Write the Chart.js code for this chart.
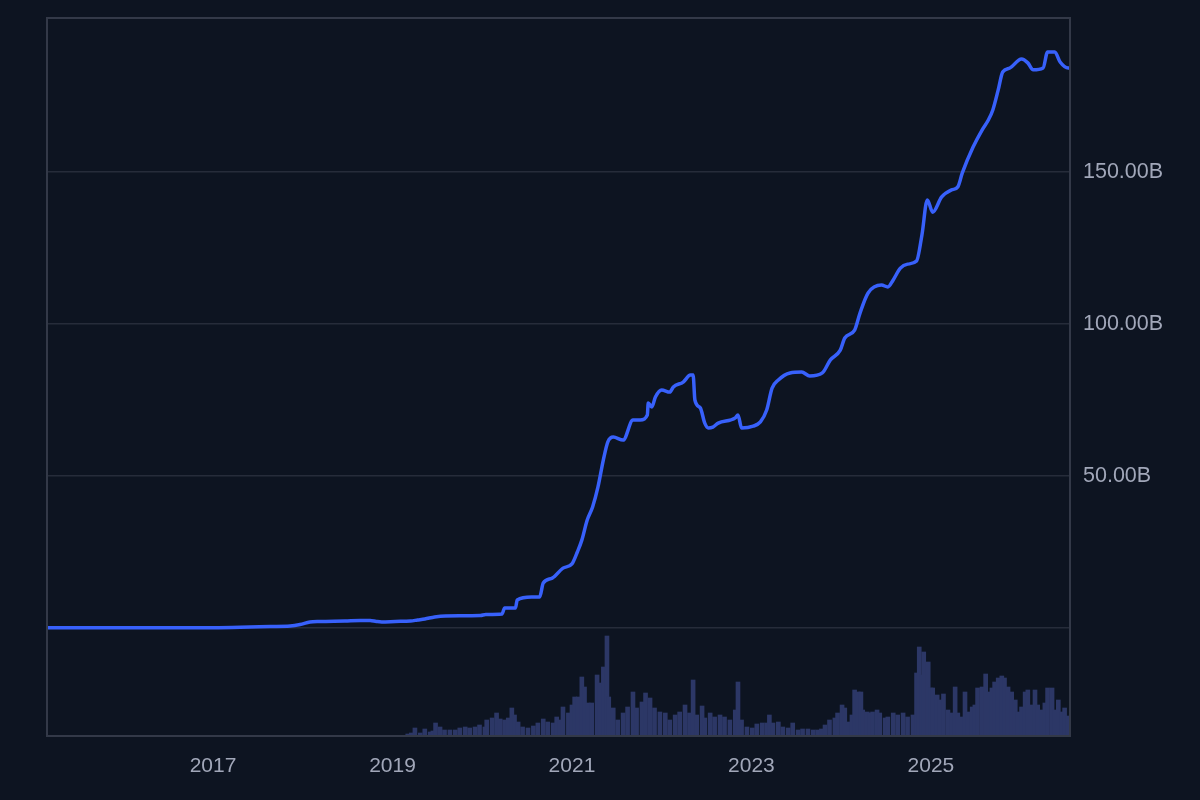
<!DOCTYPE html>
<html>
<head>
<meta charset="utf-8">
<script src="https://cdn.jsdelivr.net/npm/chart.js@4.4.1/dist/chart.umd.min.js"></script>
<style>
  html, body { margin: 0; padding: 0; background: #0d1421; }
  canvas { display: block; }
</style>
</head>
<body>
<canvas id="myChart" width="1200" height="800"></canvas>
<script>
// Market cap (billions USD), x as decimal year
const capDates = [2015.15, 2016.30, 2017.00, 2017.41, 2017.64, 2017.86, 2017.97, 2018.08, 2018.19, 2018.47,
  2018.64, 2018.75, 2018.82, 2018.88, 2019.03, 2019.20, 2019.28, 2019.36, 2019.47, 2019.59,
  2019.98, 2020.04, 2020.22, 2020.25, 2020.37, 2020.39, 2020.55, 2020.64, 2020.68, 2020.78,
  2020.90, 2021.00, 2021.06, 2021.11, 2021.17, 2021.23, 2021.29, 2021.35, 2021.40, 2021.46,
  2021.57, 2021.68, 2021.76, 2021.84, 2021.85, 2021.89, 2021.93, 2022.00, 2022.09, 2022.13,
  2022.24, 2022.32, 2022.35, 2022.37, 2022.43, 2022.48, 2022.52, 2022.57, 2022.63, 2022.82,
  2022.85, 2022.89, 2023.02, 2023.10, 2023.17, 2023.23, 2023.30, 2023.43, 2023.56, 2023.65,
  2023.79, 2023.88, 2023.99, 2024.04, 2024.15, 2024.21, 2024.30, 2024.45, 2024.52, 2024.58,
  2024.66, 2024.74, 2024.84, 2024.90, 2024.96, 2025.02, 2025.12, 2025.23, 2025.30, 2025.35,
  2025.47, 2025.57, 2025.64, 2025.69, 2025.75, 2025.80, 2025.88, 2026.01, 2026.08, 2026.14,
  2026.25, 2026.30, 2026.38, 2026.44, 2026.53, 2026.55];
const capValues = [0.05, 0.08, 0.1, 0.33, 0.5, 0.66, 1.15, 1.97, 2.14, 2.3,
  2.47, 2.47, 2.14, 1.97, 2.14, 2.3, 2.63, 2.96, 3.62, 3.95,
  4.11, 4.44, 4.61, 6.58, 6.58, 9.21, 10.2, 10.2, 14.8, 16.4,
  19.7, 21.1, 25.0, 28.9, 35.5, 39.8, 46.4, 55.3, 61.2, 62.8,
  61.8, 68.4, 68.4, 70.1, 74.0, 72.7, 76.0, 78.3, 77.6, 79.3,
  80.9, 83.2, 83.2, 75.0, 72.4, 67.4, 65.8, 66.1, 67.4, 69.1,
  70.1, 65.8, 66.4, 67.8, 71.7, 78.9, 81.6, 83.9, 84.2, 82.9,
  83.9, 88.2, 91.4, 95.4, 98.0, 103.6, 110.2, 112.8, 112.2, 114.5,
  118.4, 119.7, 120.7, 129.3, 140.8, 136.8, 141.8, 144.1, 145.1, 149.7,
  158.2, 163.8, 167.1, 170.4, 177.0, 182.9, 184.2, 187.2, 185.9, 183.6,
  184.2, 189.5, 189.5, 186.2, 184.2, 184.2];

// Trading volume (relative units), x as decimal year
const volDates = [2019.17, 2019.21, 2019.25, 2019.31, 2019.36, 2019.42, 2019.45, 2019.48, 2019.53, 2019.58,
  2019.64, 2019.70, 2019.75, 2019.81, 2019.86, 2019.92, 2019.97, 2020.03, 2020.05, 2020.11,
  2020.16, 2020.20, 2020.25, 2020.29, 2020.33, 2020.36, 2020.40, 2020.45, 2020.51, 2020.57,
  2020.62, 2020.68, 2020.73, 2020.79, 2020.83, 2020.87, 2020.90, 2020.96, 2021.00, 2021.03,
  2021.07, 2021.11, 2021.14, 2021.18, 2021.22, 2021.28, 2021.31, 2021.35, 2021.39, 2021.41,
  2021.46, 2021.51, 2021.57, 2021.62, 2021.68, 2021.72, 2021.78, 2021.82, 2021.87, 2021.92,
  2021.98, 2022.04, 2022.09, 2022.15, 2022.20, 2022.26, 2022.31, 2022.35, 2022.39, 2022.45,
  2022.48, 2022.54, 2022.59, 2022.65, 2022.70, 2022.76, 2022.82, 2022.85, 2022.89, 2022.95,
  2023.01, 2023.06, 2023.12, 2023.17, 2023.20, 2023.24, 2023.30, 2023.35, 2023.41, 2023.46,
  2023.52, 2023.57, 2023.63, 2023.69, 2023.74, 2023.78, 2023.82, 2023.87, 2023.93, 2023.96,
  2024.01, 2024.04, 2024.08, 2024.12, 2024.15, 2024.19, 2024.22, 2024.24, 2024.29, 2024.32,
  2024.35, 2024.40, 2024.43, 2024.49, 2024.52, 2024.58, 2024.63, 2024.69, 2024.74, 2024.80,
  2024.84, 2024.87, 2024.90, 2024.92, 2024.97, 2025.00, 2025.02, 2025.07, 2025.10, 2025.14,
  2025.19, 2025.23, 2025.27, 2025.30, 2025.35, 2025.38, 2025.41, 2025.46, 2025.49, 2025.52,
  2025.57, 2025.61, 2025.64, 2025.68, 2025.71, 2025.75, 2025.79, 2025.82, 2025.86, 2025.90,
  2025.94, 2025.97, 2026.01, 2026.05, 2026.08, 2026.13, 2026.16, 2026.19, 2026.24, 2026.27,
  2026.30, 2026.35, 2026.38, 2026.42, 2026.46, 2026.49, 2026.53];
const volValues = [2, 3, 8, 3, 7, 4, 5, 13, 9, 6,
  6, 6, 8, 9, 8, 9, 11, 9, 16, 18,
  23, 17, 16, 18, 28, 21, 14, 9, 8, 10,
  13, 17, 14, 13, 19, 16, 29, 23, 31, 39,
  39, 59, 49, 33, 33, 61, 53, 69, 100, 39,
  28, 16, 23, 29, 44, 28, 34, 43, 38, 28,
  24, 23, 16, 21, 24, 31, 23, 56, 21, 30,
  18, 23, 19, 21, 19, 16, 26, 54, 16, 9,
  8, 12, 13, 13, 21, 13, 14, 9, 8, 13,
  6, 7, 7, 6, 6, 7, 11, 16, 18, 23,
  31, 28, 14, 21, 46, 44, 44, 26, 24, 23,
  24, 26, 23, 18, 19, 23, 21, 23, 19, 21,
  63, 89, 61, 84, 74, 48, 48, 41, 36, 42,
  26, 23, 49, 23, 19, 44, 24, 29, 31, 48,
  49, 62, 44, 48, 54, 58, 60, 58, 49, 44,
  36, 24, 29, 44, 46, 31, 46, 31, 26, 33,
  48, 48, 26, 36, 24, 28, 20];

const xTicks = [2017, 2019, 2021, 2023, 2025];
const yTicks = [0, 50, 100, 150];

const fontFamily = "'Liberation Sans', Arial, sans-serif";

// draws the box round the plot area
const frame = {
    id: 'frame',
    afterDraw(chart) {
        const a = chart.chartArea;
        const c = chart.ctx;
        c.save();
        c.strokeStyle = '#333948';
        c.lineWidth = 2;
        c.strokeRect(a.left, a.top, a.right - a.left, a.bottom - a.top);
        c.restore();
    }
};

const ctx = document.getElementById('myChart').getContext('2d');
const myChart = new Chart(ctx, {
    data: {
        datasets: [{
            type: 'line',
            label: 'Market Cap',
            data: capDates.map((d, i) => ({ x: d, y: capValues[i] })),
            borderColor: '#3861fb',
            borderWidth: 3.5,
            pointRadius: 0,
            cubicInterpolationMode: 'monotone',
            yAxisID: 'y',
            order: 1
        }, {
            type: 'bar',
            label: 'Volume',
            data: volDates.map((d, i) => ({ x: d, y: volValues[i] })),
            backgroundColor: '#2c3766',
            barThickness: 4,
            yAxisID: 'vol',
            order: 2
        }]
    },
    options: {
        responsive: false,
        animation: false,
        layout: { padding: { left: 47, top: 18, right: 0, bottom: 0 } },
        plugins: { legend: { display: false }, tooltip: { enabled: false } },
        scales: {
            x: {
                type: 'linear',
                offset: false,
                min: 2015.15,
                max: 2026.55,
                grid: { display: false, drawTicks: false, offset: false },
                border: { display: false },
                afterBuildTicks: scale => { scale.ticks = xTicks.map(v => ({ value: v })); },
                afterFit: scale => {
                    scale.height = 64;
                    scale.paddingLeft = 0;
                    scale.paddingRight = 0;
                },
                ticks: {
                    color: '#a1a7b9',
                    font: { family: fontFamily, size: 21 },
                    padding: 18,
                    maxRotation: 0,
                    callback: v => String(v)
                }
            },
            y: {
                position: 'right',
                min: -35.53,
                max: 200.66,
                grid: { color: '#262c3a', lineWidth: 1.5, drawTicks: false },
                border: { display: false },
                afterBuildTicks: scale => { scale.ticks = yTicks.map(v => ({ value: v })); },
                afterFit: scale => {
                    scale.width = 130;
                    scale.paddingTop = 0;
                    scale.paddingBottom = 0;
                },
                ticks: {
                    color: '#a1a7b9',
                    font: { family: fontFamily, size: 21.5 },
                    padding: 13,
                    callback: v => v === 0 ? '' : v.toFixed(2) + 'B'
                }
            },
            vol: {
                display: false,
                min: 0,
                max: 718
            }
        }
    },
    plugins: [frame]
});
</script>
</body>
</html>
